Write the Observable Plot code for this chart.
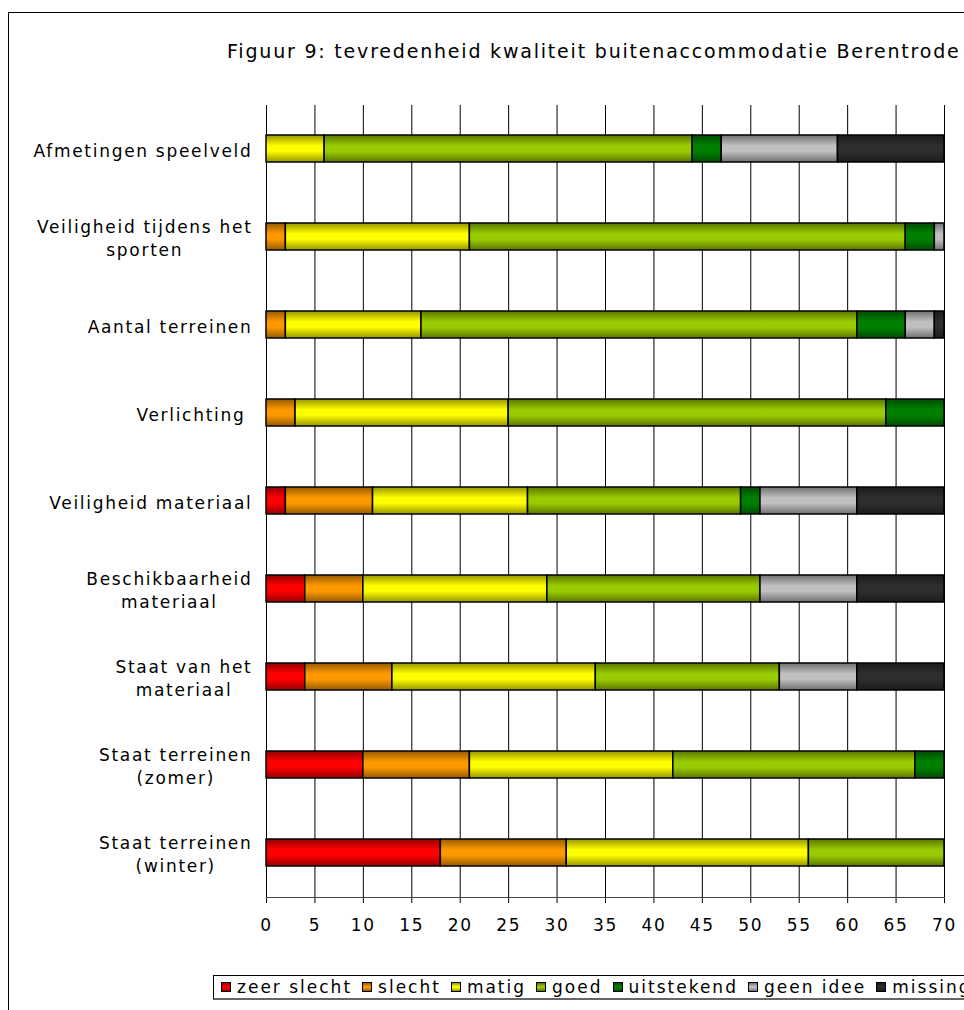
<!DOCTYPE html>
<html>
<head>
<meta charset="utf-8">
<script src="https://cdn.jsdelivr.net/npm/d3@7"></script>
<script src="https://cdn.jsdelivr.net/npm/@observablehq/plot@0.6"></script>
<style>
  html, body { margin: 0; padding: 0; background: #fff; overflow: hidden; }
  #page { position: relative; width: 964px; height: 1010px; overflow: hidden; font-family: "DejaVu Sans", Verdana, sans-serif; color: #000; }
  #frame { position: absolute; left: 8px; top: 12px; width: 2000px; height: 2000px; border-left: 1px solid #000; border-top: 1px solid #000; }
  #title { position: absolute; left: 227px; top: 40px; font-size: 19px; letter-spacing: 1.8px; white-space: nowrap; }
  #chart { position: absolute; left: 0; top: 0; }
  #chart svg text { letter-spacing: 1.7px; }
  #legend { position: absolute; left: 213px; top: 975px; height: 22px; border: 1px solid #000; border-bottom: 2px solid #666; white-space: nowrap; font-size: 17px; letter-spacing: 2px; padding: 0 0 0 7px; display: flex; align-items: center; width: 900px; }
  #legend .item { display: inline-flex; align-items: center; margin-right: 10px; }
  #legend .sw { display: inline-block; width: 8px; height: 8px; border: 1px solid #000; margin-right: 6px; }
</style>
</head>
<body>
<div id="page">
  <div id="frame"></div>
  <div id="title"></div>
  <div id="chart"></div>
  <div id="legend"></div>
</div>
<script>
const titleText = "Figuur 9: tevredenheid kwaliteit buitenaccommodatie Berentrode";
const categories = [
  "Afmetingen speelveld",
  "Veiligheid tijdens het\nsporten",
  "Aantal terreinen",
  "Verlichting ",
  "Veiligheid materiaal",
  "Beschikbaarheid\nmateriaal",
  "Staat van het\nmateriaal",
  "Staat terreinen\n(zomer)",
  "Staat terreinen\n(winter)"
];
const series = ["zeer slecht", "slecht", "matig", "goed", "uitstekend", "geen idee", "missing"];
const seriesColors = ["#FF0000", "#FF9900", "#FFFF00", "#99CC00", "#008000", "#C0C0C0", "#2E2E2E"];
const zeerSlecht = [0, 0, 0, 0, 2, 4, 4, 10, 18];
const slecht     = [0, 2, 2, 3, 9, 6, 9, 11, 13];
const matig      = [6, 19, 14, 22, 16, 19, 21, 21, 25];
const goed       = [38, 45, 45, 39, 22, 22, 19, 25, 14];
const uitstekend = [3, 3, 5, 6, 2, 0, 0, 3, 0];
const geenIdee   = [12, 1, 3, 0, 10, 10, 8, 0, 0];
const missing    = [11, 0, 1, 0, 9, 9, 9, 0, 0];
const xTicks = [0, 5, 10, 15, 20, 25, 30, 35, 40, 45, 50, 55, 60, 65, 70];

const seriesValues = [zeerSlecht, slecht, matig, goed, uitstekend, geenIdee, missing];
const rows = [];
categories.forEach((c, i) => {
  series.forEach((s, j) => {
    const v = seriesValues[j][i];
    if (v > 0) rows.push({category: c, series: s, value: v});
  });
});

document.getElementById("title").textContent = titleText;

const gradIds = series.map((s, i) => `grad${i}`);

const chart = Plot.plot({
  width: 964,
  height: 960,
  marginLeft: 266,
  marginRight: 20,
  marginTop: 105,
  marginBottom: 63,
  style: {fontFamily: "DejaVu Sans, Verdana, sans-serif", fontSize: "17px", color: "#000", background: "transparent", overflow: "visible"},
  x: {domain: [0, 70], label: null},
  y: {domain: categories, paddingInner: 0.69, paddingOuter: 0.345, label: null},
  color: {domain: series, range: gradIds.map(id => `url(#${id})`)},
  marks: [
    Plot.ruleX(xTicks, {stroke: "#000", strokeWidth: 1}),
    Plot.barX(rows, Plot.stackX({x: "value", y: "category", fill: "series", stroke: "#000", strokeWidth: 1.5})),
    Plot.axisX({ticks: xTicks, tickSize: 6, tickPadding: 15, tickFormat: d => String(d), label: null, fontSize: 17}),
    Plot.axisY({tickSize: 0, tickPadding: 14, lineHeight: 1.38, label: null, fontSize: 17}),
    Plot.frame({anchor: "bottom", stroke: "#444"})
  ]
});

// gradient definitions (Excel-like horizontal shading)
const defs = d3.select(chart).insert("defs", ":first-child");
series.forEach((s, i) => {
  const base = d3.color(seriesColors[i]);
  const dark = base.darker(1.5);
  const g = defs.append("linearGradient").attr("id", gradIds[i]).attr("x1", 0).attr("y1", 0).attr("x2", 0).attr("y2", 1);
  g.append("stop").attr("offset", "0%").attr("stop-color", dark.formatHex());
  g.append("stop").attr("offset", "40%").attr("stop-color", base.formatHex());
  g.append("stop").attr("offset", "60%").attr("stop-color", base.formatHex());
  g.append("stop").attr("offset", "100%").attr("stop-color", dark.formatHex());
});

document.getElementById("chart").appendChild(chart);

// center multi-line category labels within their block
d3.select(chart).selectAll('g[aria-label="y-axis tick label"] text').each(function() {
  const tspans = Array.from(this.querySelectorAll("tspan"));
  if (tspans.length > 1) {
    const w = d3.max(tspans, t => t.getComputedTextLength());
    this.setAttribute("text-anchor", "middle");
    tspans.forEach(t => t.setAttribute("x", -w / 2));
  }
});

// legend
const legend = d3.select("#legend");
series.forEach((s, i) => {
  const base = d3.color(seriesColors[i]);
  const dark = base.darker(1.5).formatHex();
  const item = legend.append("span").attr("class", "item");
  item.append("span").attr("class", "sw").style("background", `linear-gradient(${dark}, ${base.formatHex()} 45%, ${base.formatHex()} 55%, ${dark})`);
  item.append("span").text(s);
});
</script>
</body>
</html>
